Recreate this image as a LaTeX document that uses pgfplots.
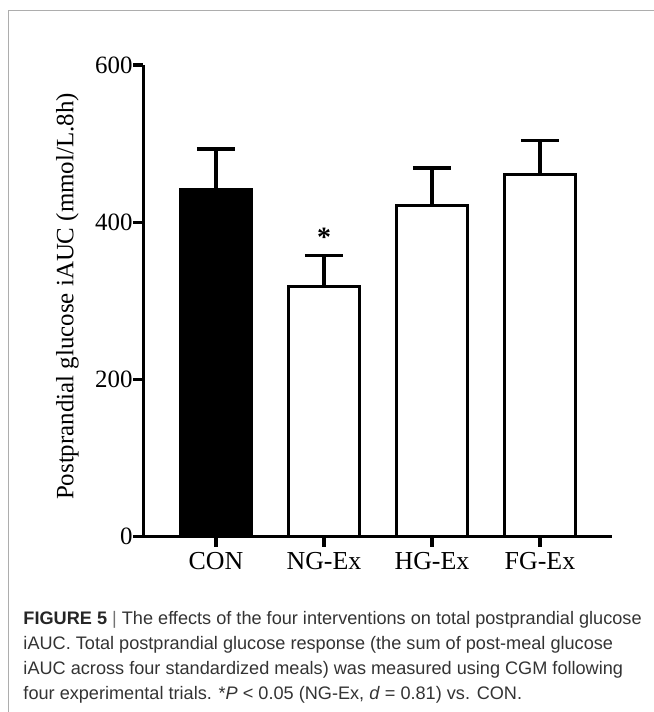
\documentclass[border=0pt]{standalone}
\usepackage{fontspec}
\setmainfont{Liberation Serif}
\newfontfamily\capfont{Liberation Sans}
\usepackage{pgfplots}
\pgfplotsset{compat=1.18}
\definecolor{framegray}{gray}{0.68}
\definecolor{captext}{gray}{0.2}
\definecolor{barsep}{gray}{0.45}
\begin{document}
\begin{tikzpicture}[x=1bp,y=1bp]
\path[use as bounding box] (0,0) rectangle (654,712);
\draw[framegray, line width=1.1bp] (8.7,0) -- (8.7,701.3) -- (654,701.3);
\begin{axis}[
  at={(143.3bp,175.3bp)}, anchor=south west,
  scale only axis, width=468.7bp, height=471.7bp,
  xmin=-0.673, xmax=3.667, ymin=0, ymax=600,
  axis x line=bottom, axis y line=left,
  axis line style={-, line width=3.3bp, black},
  tick style={black, line width=3.3bp},
  major tick length=10bp, tick align=outside,
  ytick={0,200,400,600},
  xtick={0,1,2,3},
  xticklabels={CON,NG-Ex,HG-Ex,FG-Ex},
  /pgf/number format/assume math mode=true,
  yticklabel style={font=\fontsize{25}{25}\selectfont, inner xsep=0.5bp},
  xticklabel style={font=\fontsize{26}{26}\selectfont, inner ysep=0pt, yshift=-5bp},
  ylabel={Postprandial glucose iAUC (mmol/L.8h)},
  ylabel style={font=\fontsize{25}{25}\selectfont, at={(axis description cs:-0.1617,0.509)}, anchor=center},
  clip=false,
]
\addplot[ybar, bar width=71.5bp, bar shift=0pt, fill=black, draw=black, line width=3.3bp,
  error bars/.cd, y dir=plus, y explicit,
  error bar style={line width=3.3bp, black},
  error mark options={rotate=90, mark size=19bp, line width=3.3bp, black}]
  coordinates {(0,442) +- (0,51)};
\addplot[ybar, bar width=71.5bp, bar shift=0pt, fill=white, draw=black, line width=3.3bp,
  error bars/.cd, y dir=plus, y explicit,
  error bar style={line width=3.3bp, black},
  error mark options={rotate=90, mark size=19bp, line width=3.3bp, black}]
  coordinates {(1,318) +- (0,40) (2,421) +- (0,48) (3,461) +- (0,43)};
\node[anchor=base, inner sep=0pt, font=\bfseries\fontsize{28}{28}\selectfont] at (axis cs:1,369) {*};
\end{axis}
\begin{scope}[every node/.style={anchor=base west, inner sep=0pt, text=captext, font=\capfont\fontsize{18.2}{25}\selectfont}]
\node at (23.3,87) {{\bfseries\color{black!85}FIGURE 5} {\color{barsep}|} The effects of the four interventions on total postprandial glucose};
\node at (23.3,62) {iAUC. Total postprandial glucose response (the sum of post-meal glucose};
\node at (23.3,37) {iAUC across four standardized meals) was measured using CGM following};
\node at (23.3,12) {four experimental trials. *\textit{P} < 0.05 (NG-Ex, \textit{d} = 0.81) vs. CON.};
\end{scope}
\end{tikzpicture}
\end{document}
